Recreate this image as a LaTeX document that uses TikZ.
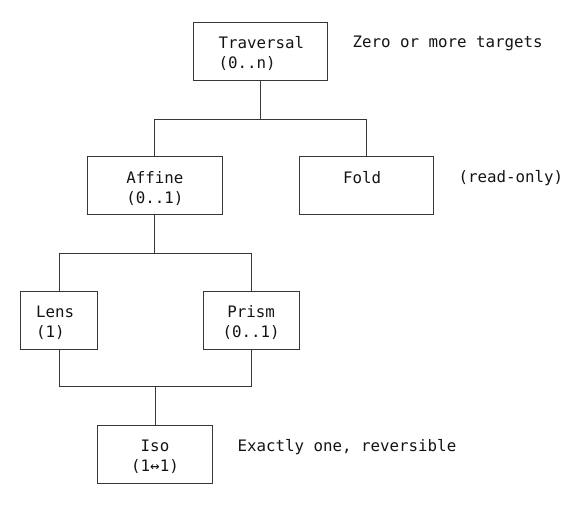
\documentclass[tikz,border=0pt]{standalone}
\usepackage{fontspec}
\newfontfamily\asciifont{DejaVu Sans Mono}
\newcommand\capline{\rule{0pt}{17.3pt}}

\begin{document}
\begin{tikzpicture}[x=1pt, y=-1pt,
  box/.style={draw=linegray, line width=0.9pt, inner sep=0pt, minimum height=58pt,
    font=\asciifont\fontsize{15.8}{20}\selectfont, text=inkgray},
  note/.style={anchor=base west, inner sep=0pt,
    font=\asciifont\fontsize{15.8}{20}\selectfont, text=inkgray},
  link/.style={draw=linegray, line width=0.9pt}]

% Colors
\definecolor{linegray}{RGB}{55,55,55}   % lines
\definecolor{inkgray}{RGB}{20,20,20}    % text

\useasboundingbox (0,0) rectangle (579,512);

% === TRAVERSAL ===
\node[box, minimum width=134.5pt, text width=84pt, align=left] (trav) at (260.5,51.3) {\capline Traversal\\(0..n)};
\node[note] (travnote) at (352.3,47.7) {Zero or more targets};

% === AFFINE / FOLD ===
\node[box, minimum width=135pt, align=center] (affine) at (154.8,185.8) {\capline Affine\\(0..1)};
\node[box, minimum width=134.3pt, text width=46pt, align=left] (fold) at (366.2,185.8) {\capline Fold\\\vphantom{(}};
\node[note] (foldnote) at (458.3,182.7) {(read-only)};

% === LENS / PRISM ===
\node[box, minimum width=77pt, text width=46pt, align=left] (lens) at (59.2,320) {\capline Lens\\(1)};
\node[box, minimum width=95.7pt, align=center] (prism) at (251.2,320) {\capline Prism\\(0..1)};

% === ISO ===
\node[box, minimum width=115.4pt, align=center] (iso) at (155,454.2) {\capline Iso\\(1↔1)};
\node[note] (isonote) at (237.3,451.7) {Exactly one, reversible};

% === Links ===
\coordinate (jtop) at ([yshift=-39pt]trav.south);
\draw[link] (trav.south) -- (jtop);
\draw[link] (affine.north) |- (jtop) -| (fold.north);

\coordinate (jmid) at ([yshift=-38pt]affine.south);
\draw[link] (affine.south) -- (jmid);
\draw[link] (lens.north) |- (jmid) -| (prism.north);

\coordinate (jlow) at ([yshift=38pt]iso.north);
\draw[link] (lens.south) |- (jlow) -| (prism.south);
\draw[link] (jlow) -- (iso.north);

\end{tikzpicture}
\end{document}
